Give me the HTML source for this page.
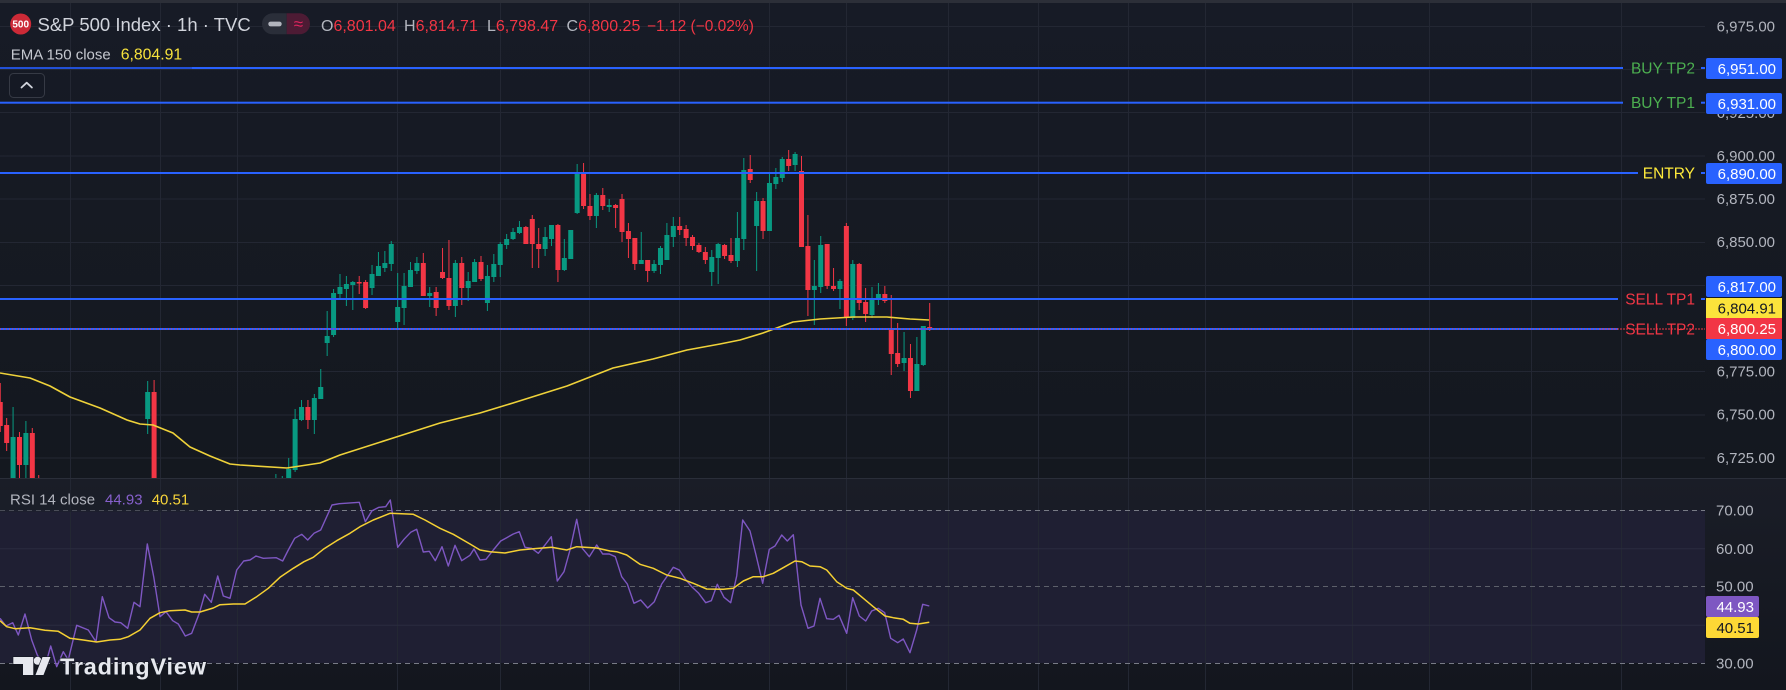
<!DOCTYPE html>
<html><head><meta charset="utf-8"><style>
html,body{margin:0;padding:0;background:#151924;}
body{width:1786px;height:690px;overflow:hidden;}
svg{display:block;font-family:"Liberation Sans",Arial,sans-serif;}
</style></head><body>
<svg width="1786" height="690" viewBox="0 0 1786 690" xmlns="http://www.w3.org/2000/svg">
<defs>
<linearGradient id="gp" x1="0" y1="0" x2="0" y2="1"><stop offset="0" stop-color="#171b26"/><stop offset="1" stop-color="#14181f"/></linearGradient>
<linearGradient id="gr" x1="0" y1="0" x2="0" y2="1"><stop offset="0" stop-color="#1a1d27"/><stop offset="1" stop-color="#13161e"/></linearGradient>
<clipPath id="cp"><rect x="0" y="0" width="1705" height="478"/></clipPath>
<clipPath id="cr"><rect x="0" y="479" width="1705" height="211"/></clipPath>
</defs>
<!-- backgrounds -->
<rect x="0" y="0" width="1786" height="478" fill="url(#gp)"/>
<rect x="0" y="479" width="1786" height="211" fill="url(#gr)"/>
<rect x="0" y="510" width="1705" height="153" fill="#1f1f33"/>
<rect x="0" y="0" width="1786" height="3" fill="#2c2f38"/>
<!-- vertical grid -->
<g stroke="#232733" stroke-width="1">
<line x1="70.5" y1="3" x2="70.5" y2="690"/><line x1="160.5" y1="3" x2="160.5" y2="690"/><line x1="237.5" y1="3" x2="237.5" y2="690"/><line x1="397.5" y1="3" x2="397.5" y2="690"/><line x1="500.5" y1="3" x2="500.5" y2="690"/><line x1="589.5" y1="3" x2="589.5" y2="690"/><line x1="679.5" y1="3" x2="679.5" y2="690"/><line x1="769.5" y1="3" x2="769.5" y2="690"/><line x1="846.5" y1="3" x2="846.5" y2="690"/><line x1="948.5" y1="3" x2="948.5" y2="690"/><line x1="1038.5" y1="3" x2="1038.5" y2="690"/><line x1="1128.5" y1="3" x2="1128.5" y2="690"/><line x1="1205.5" y1="3" x2="1205.5" y2="690"/><line x1="1352.5" y1="3" x2="1352.5" y2="690"/><line x1="1429.5" y1="3" x2="1429.5" y2="690"/><line x1="1531.5" y1="3" x2="1531.5" y2="690"/><line x1="1621.5" y1="3" x2="1621.5" y2="690"/>
</g>
<!-- horizontal grid price -->
<g stroke="#232733" stroke-width="1">
<line x1="0" y1="26.5" x2="1705" y2="26.5"/><line x1="0" y1="69.5" x2="1705" y2="69.5"/><line x1="0" y1="112.5" x2="1705" y2="112.5"/><line x1="0" y1="156" x2="1705" y2="156"/><line x1="0" y1="199" x2="1705" y2="199"/><line x1="0" y1="242.5" x2="1705" y2="242.5"/><line x1="0" y1="285.5" x2="1705" y2="285.5"/><line x1="0" y1="371.5" x2="1705" y2="371.5"/><line x1="0" y1="415" x2="1705" y2="415"/><line x1="0" y1="458" x2="1705" y2="458"/>
</g>
<!-- RSI grid -->
<g stroke="#2a2b40" stroke-width="1">
<line x1="0" y1="548.7" x2="1705" y2="548.7"/><line x1="0" y1="625.3" x2="1705" y2="625.3"/>
</g>
<line x1="0" y1="510.5" x2="1705" y2="510.5" stroke="#787b86" stroke-dasharray="5 4"/>
<line x1="0" y1="586.5" x2="1705" y2="586.5" stroke="#5d606b" stroke-dasharray="5 4"/>
<line x1="0" y1="663.5" x2="1705" y2="663.5" stroke="#787b86" stroke-dasharray="5 4"/>
<!-- pane separator -->
<rect x="0" y="478" width="1786" height="1" fill="#2a2e39"/>

<!-- candles -->
<g clip-path="url(#cp)"><g transform="translate(-0.6,0)">
<g fill="#089981">
<rect x="13.17" y="407" width="1" height="83"/><rect x="11.17" y="437" width="5" height="53"/>
<rect x="25.99" y="421" width="1" height="69"/><rect x="23.99" y="433" width="5" height="32"/>
<rect x="147.78" y="381" width="1" height="53"/><rect x="145.78" y="392" width="5" height="27"/>
<rect x="275.98" y="474" width="1" height="10"/>
<rect x="282.39" y="476" width="1" height="8"/>
<rect x="288.8" y="458" width="1" height="30"/><rect x="286.8" y="469" width="5" height="20"/>
<rect x="295.21" y="409" width="1" height="63"/><rect x="293.21" y="419" width="5" height="51"/>
<rect x="301.62" y="400" width="1" height="21"/><rect x="299.62" y="407" width="5" height="13"/>
<rect x="314.44" y="394" width="1" height="40"/><rect x="312.44" y="398" width="5" height="22"/>
<rect x="320.85" y="369" width="1" height="30"/><rect x="318.85" y="387" width="5" height="12"/>
<rect x="327.26" y="311" width="1" height="45"/><rect x="325.26" y="336" width="5" height="7"/>
<rect x="333.67" y="289" width="1" height="48"/><rect x="331.67" y="293" width="5" height="42"/>
<rect x="340.08" y="274" width="1" height="24"/><rect x="338.08" y="287" width="5" height="7"/>
<rect x="346.49" y="276" width="1" height="30"/><rect x="344.49" y="284" width="5" height="5"/>
<rect x="352.9" y="281" width="1" height="29"/><rect x="350.9" y="282" width="5" height="3"/>
<rect x="372.13" y="265" width="1" height="30"/><rect x="370.13" y="274" width="5" height="14"/>
<rect x="378.54" y="252" width="1" height="24"/><rect x="376.54" y="266" width="5" height="10"/>
<rect x="384.95" y="251" width="1" height="21"/><rect x="382.95" y="263" width="5" height="5"/>
<rect x="391.36" y="241" width="1" height="30"/><rect x="389.36" y="244" width="5" height="20"/>
<rect x="397.77" y="273" width="1" height="55"/><rect x="395.77" y="307" width="5" height="15"/>
<rect x="404.18" y="273" width="1" height="52"/><rect x="402.18" y="286" width="5" height="22"/>
<rect x="410.59" y="262" width="1" height="25"/><rect x="408.59" y="270" width="5" height="17"/>
<rect x="417" y="257" width="1" height="17"/><rect x="415" y="263" width="5" height="8"/>
<rect x="429.82" y="287" width="1" height="20"/><rect x="427.82" y="293" width="5" height="3"/>
<rect x="455.46" y="260" width="1" height="57"/><rect x="453.46" y="263" width="5" height="43"/>
<rect x="468.28" y="272" width="1" height="29"/><rect x="466.28" y="281" width="5" height="7"/>
<rect x="474.69" y="259" width="1" height="23"/><rect x="472.69" y="262" width="5" height="20"/>
<rect x="487.51" y="265" width="1" height="46"/><rect x="485.51" y="276" width="5" height="27"/>
<rect x="493.92" y="254" width="1" height="28"/><rect x="491.92" y="264" width="5" height="13"/>
<rect x="500.33" y="242" width="1" height="35"/><rect x="498.33" y="244" width="5" height="21"/>
<rect x="506.74" y="234" width="1" height="15"/><rect x="504.74" y="239" width="5" height="6"/>
<rect x="513.15" y="228" width="1" height="12"/><rect x="511.15" y="232" width="5" height="7"/>
<rect x="519.56" y="221" width="1" height="13"/><rect x="517.56" y="227" width="5" height="6"/>
<rect x="545.2" y="227" width="1" height="29"/><rect x="543.2" y="237" width="5" height="12"/>
<rect x="551.61" y="225" width="1" height="21"/><rect x="549.61" y="225" width="5" height="14"/>
<rect x="564.43" y="239" width="1" height="32"/><rect x="562.43" y="258" width="5" height="12"/>
<rect x="570.84" y="230" width="1" height="29"/><rect x="568.84" y="230" width="5" height="29"/>
<rect x="577.25" y="164" width="1" height="50"/><rect x="575.25" y="172" width="5" height="41"/>
<rect x="596.48" y="193" width="1" height="35"/><rect x="594.48" y="195" width="5" height="21"/>
<rect x="609.3" y="199" width="1" height="13"/><rect x="607.3" y="205" width="5" height="2"/>
<rect x="641.35" y="232" width="1" height="32"/><rect x="639.35" y="260" width="5" height="4"/>
<rect x="654.17" y="260" width="1" height="13"/><rect x="652.17" y="264" width="5" height="7"/>
<rect x="660.58" y="246" width="1" height="28"/><rect x="658.58" y="248" width="5" height="17"/>
<rect x="666.99" y="223" width="1" height="37"/><rect x="664.99" y="235" width="5" height="25"/>
<rect x="673.4" y="217" width="1" height="30"/><rect x="671.4" y="226" width="5" height="11"/>
<rect x="711.86" y="250" width="1" height="36"/><rect x="709.86" y="257" width="5" height="15"/>
<rect x="718.27" y="243" width="1" height="41"/><rect x="716.27" y="244" width="5" height="14"/>
<rect x="737.5" y="212" width="1" height="55"/><rect x="735.5" y="238" width="5" height="23"/>
<rect x="743.91" y="158" width="1" height="92"/><rect x="741.91" y="170" width="5" height="69"/>
<rect x="756.73" y="192" width="1" height="79"/><rect x="754.73" y="201" width="5" height="25"/>
<rect x="769.55" y="174" width="1" height="57"/><rect x="767.55" y="183" width="5" height="48"/>
<rect x="775.96" y="168" width="1" height="21"/><rect x="773.96" y="177" width="5" height="7"/>
<rect x="782.37" y="157" width="1" height="25"/><rect x="780.37" y="159" width="5" height="19"/>
<rect x="795.19" y="152" width="1" height="19"/><rect x="793.19" y="154" width="5" height="11"/>
<rect x="814.42" y="260" width="1" height="65"/><rect x="812.42" y="286" width="5" height="4"/>
<rect x="820.83" y="236" width="1" height="57"/><rect x="818.83" y="245" width="5" height="42"/>
<rect x="840.06" y="279" width="1" height="30"/><rect x="838.06" y="281" width="5" height="8"/>
<rect x="852.88" y="260" width="1" height="60"/><rect x="850.88" y="264" width="5" height="54"/>
<rect x="872.11" y="287" width="1" height="31"/><rect x="870.11" y="299" width="5" height="16"/>
<rect x="878.52" y="283" width="1" height="22"/><rect x="876.52" y="294" width="5" height="5"/>
<rect x="904.16" y="332" width="1" height="39"/><rect x="902.16" y="358" width="5" height="5"/>
<rect x="916.98" y="337" width="1" height="54"/><rect x="914.98" y="364" width="5" height="27"/>
<rect x="923.39" y="326" width="1" height="40"/><rect x="921.39" y="326" width="5" height="39"/>
</g>
<g fill="#f23645">
<rect x="0.35" y="383" width="1" height="49"/><rect x="-1.65" y="402" width="5" height="24"/>
<rect x="6.76" y="418" width="1" height="33"/><rect x="4.76" y="425" width="5" height="18"/>
<rect x="19.58" y="432" width="1" height="46"/><rect x="17.58" y="437" width="5" height="28"/>
<rect x="32.4" y="428" width="1" height="50"/><rect x="30.4" y="433" width="5" height="45"/>
<rect x="38.81" y="475" width="1" height="5"/>
<rect x="154.19" y="380" width="1" height="98"/><rect x="152.19" y="392" width="5" height="86"/>
<rect x="308.03" y="400" width="1" height="29"/><rect x="306.03" y="407" width="5" height="13"/>
<rect x="359.31" y="276" width="1" height="18"/><rect x="357.31" y="282" width="5" height="1.5"/>
<rect x="365.72" y="280" width="1" height="29"/><rect x="363.72" y="282" width="5" height="26"/>
<rect x="423.41" y="253" width="1" height="43"/><rect x="421.41" y="263" width="5" height="33"/>
<rect x="436.23" y="287" width="1" height="29"/><rect x="434.23" y="292" width="5" height="16"/>
<rect x="442.64" y="248" width="1" height="31"/><rect x="440.64" y="272" width="5" height="6"/>
<rect x="449.05" y="240" width="1" height="70"/><rect x="447.05" y="278" width="5" height="28"/>
<rect x="461.87" y="257" width="1" height="48"/><rect x="459.87" y="263" width="5" height="25"/>
<rect x="481.1" y="256" width="1" height="25"/><rect x="479.1" y="262" width="5" height="17"/>
<rect x="525.97" y="226" width="1" height="18"/><rect x="523.97" y="227" width="5" height="17"/>
<rect x="532.38" y="215" width="1" height="53"/><rect x="530.38" y="219" width="5" height="25"/>
<rect x="538.79" y="228" width="1" height="40"/><rect x="536.79" y="244" width="5" height="5"/>
<rect x="558.02" y="224" width="1" height="58"/><rect x="556.02" y="225" width="5" height="45"/>
<rect x="583.66" y="163" width="1" height="46"/><rect x="581.66" y="172" width="5" height="34"/>
<rect x="590.07" y="194" width="1" height="26"/><rect x="588.07" y="206" width="5" height="10"/>
<rect x="602.89" y="188" width="1" height="22"/><rect x="600.89" y="195" width="5" height="11"/>
<rect x="615.71" y="204" width="1" height="24"/><rect x="613.71" y="205" width="5" height="3"/>
<rect x="622.12" y="194" width="1" height="48"/><rect x="620.12" y="199" width="5" height="33"/>
<rect x="628.53" y="223" width="1" height="35"/><rect x="626.53" y="231" width="5" height="8"/>
<rect x="634.94" y="238" width="1" height="32"/><rect x="632.94" y="238" width="5" height="26"/>
<rect x="647.76" y="260" width="1" height="22"/><rect x="645.76" y="260" width="5" height="11"/>
<rect x="679.81" y="217" width="1" height="18"/><rect x="677.81" y="226" width="5" height="4"/>
<rect x="686.22" y="225" width="1" height="21"/><rect x="684.22" y="229" width="5" height="9"/>
<rect x="692.63" y="235" width="1" height="15"/><rect x="690.63" y="237" width="5" height="9"/>
<rect x="699.04" y="243" width="1" height="10"/><rect x="697.04" y="245" width="5" height="7"/>
<rect x="705.45" y="247" width="1" height="17"/><rect x="703.45" y="252" width="5" height="8"/>
<rect x="724.68" y="244" width="1" height="15"/><rect x="722.68" y="245" width="5" height="11"/>
<rect x="731.09" y="238" width="1" height="25"/><rect x="729.09" y="255" width="5" height="6"/>
<rect x="750.32" y="155" width="1" height="28"/><rect x="748.32" y="169" width="5" height="11"/>
<rect x="763.14" y="198" width="1" height="41"/><rect x="761.14" y="201" width="5" height="30"/>
<rect x="788.78" y="150" width="1" height="21"/><rect x="786.78" y="159" width="5" height="7"/>
<rect x="801.6" y="156" width="1" height="91"/><rect x="799.6" y="171" width="5" height="76"/>
<rect x="808.01" y="215" width="1" height="101"/><rect x="806.01" y="246" width="5" height="44"/>
<rect x="827.24" y="244" width="1" height="45"/><rect x="825.24" y="244" width="5" height="42"/>
<rect x="833.65" y="268" width="1" height="23"/><rect x="831.65" y="286" width="5" height="3"/>
<rect x="846.47" y="223" width="1" height="103"/><rect x="844.47" y="226" width="5" height="92"/>
<rect x="859.29" y="263" width="1" height="47"/><rect x="857.29" y="264" width="5" height="39"/>
<rect x="865.7" y="288" width="1" height="34"/><rect x="863.7" y="302" width="5" height="12"/>
<rect x="884.93" y="286" width="1" height="17"/><rect x="882.93" y="294" width="5" height="7"/>
<rect x="891.34" y="295" width="1" height="80"/><rect x="889.34" y="328" width="5" height="26"/>
<rect x="897.75" y="323" width="1" height="44"/><rect x="895.75" y="353" width="5" height="11"/>
<rect x="910.57" y="344" width="1" height="54"/><rect x="908.57" y="358" width="5" height="33"/>
<rect x="929.8" y="303" width="1" height="28"/><rect x="927.8" y="327" width="5" height="2"/>
</g>
</g>
<!-- EMA -->
<polyline fill="none" stroke="#efd23a" stroke-width="1.6" stroke-linejoin="round" points="0,373 30,378 50,386 70,397 100,408 127,420 140,424 153,425 173,433 190,447 210,456 230,464 240,465 287,468 320,463 340,455 390,439 440,423 480,413 513,403 567,386 613,368 653,359 687,350 720,344 740,340 763,333 793,322 820,319 853,317 887,317 910,319 929,320"/>
</g>

<!-- horizontal level lines -->
<rect x="0" y="67" width="192" height="2" fill="#2250d6"/>
<rect x="192" y="67" width="1431" height="2" fill="#2962ff"/>
<rect x="1701" y="67" width="4" height="2" fill="#2962ff"/>
<rect x="0" y="101.7" width="1623" height="2" fill="#2962ff"/>
<rect x="1701" y="101.7" width="4" height="2" fill="#2962ff"/>
<rect x="0" y="172" width="1638" height="2" fill="#2962ff"/>
<rect x="1701" y="172" width="4" height="2" fill="#2962ff"/>
<rect x="0" y="298" width="1618" height="2" fill="#2962ff"/>
<rect x="1701" y="298" width="4" height="2" fill="#2962ff"/>
<rect x="0" y="328" width="1618" height="2" fill="#2962ff"/>
<line x1="0" y1="329" x2="1705" y2="329" stroke="#f23645" stroke-width="1" stroke-dasharray="1 2"/>

<g font-size="15.5" text-anchor="end">
<text x="1695" y="73.5" fill="#4caf50">BUY TP2</text>
<text x="1695" y="108.2" fill="#4caf50">BUY TP1</text>
<text x="1695" y="178.5" fill="#ffeb3b">ENTRY</text>
<text x="1695" y="304.5" fill="#f23645">SELL TP1</text>
<text x="1695" y="334.5" fill="#f23645">SELL TP2</text>
</g>
<line x1="1600" y1="329" x2="1705" y2="329" stroke="#f23645" stroke-width="1" stroke-dasharray="1 2"/>

<!-- RSI lines -->
<g clip-path="url(#cr)">
<polyline fill="none" stroke="#7e57c2" stroke-width="1.4" stroke-linejoin="round" points="0,618.3 6,626 12.7,622.7 18.3,635 25,614 31.7,640 37.3,655 45,666.7 50.7,646 56.7,666.7 63.3,651.7 68.3,660 70,652.7 76.7,625.3 88.3,630 96,641.7 102.3,596.7 109,617.7 115,622 120.7,622.7 127.7,628.3 134,602.3 140,606.7 147.3,544 153.7,576.7 160,616.7 166,611.7 172.7,620.7 178.3,624 185.3,636 191.7,633.3 199.3,613.3 204.7,594.3 211.3,602.3 217.7,576 223.3,596 230,598.3 236.7,570 243.7,561 250,560 256,556 263.3,558.3 276.3,557.7 282.7,561 288.3,550 294.7,538.3 301.7,534.3 307.7,540 314,533.3 320.7,530 332,505 339.3,503.7 359.3,502.3 365.3,521.7 372,510.7 379,507.3 385.7,506.7 390.3,500 397.7,547.3 404,539.3 410.7,532.3 416.7,529.3 423.3,552 429.3,551.3 435.3,560.7 442,546.7 448.3,566 455,545.3 461.7,560.7 470,555.3 474,549 480,560 486,559.3 493.3,550 500.7,541 506.7,537.7 513.3,534 519.3,531.7 525,547.3 531.7,548.3 538.3,553.3 545,545 551.3,536.7 557.3,581 564,571.7 570,550 576.7,519.3 582.3,548.3 589.3,556.7 596.7,545 602.7,554 609.3,554 615.3,556.7 621.7,576.7 627.3,584 634,603.3 640.7,600 647.7,608 654.3,601.7 661.7,584 673.3,567.3 679.3,570 686,580 692.3,587.3 698.7,593.3 705.7,602.7 711.3,600.7 717.3,584.3 724,597.3 730.7,602.7 736.7,576 742.7,520 750,531 756,555 762.7,583.3 769.3,549.3 775,546 781.7,535 787.3,541 793.3,534.7 801,605 808,628.3 814,626 820,598.3 826.7,618.7 833.3,619.3 839,615.3 846.7,633.3 852.7,597.7 859.3,616 865.7,621 871.7,611 878.3,608.3 884.7,612.7 890.7,638.3 897.7,642.7 903.3,639 910,652.7 916.7,630 922.7,604.3 929.3,606"/>
<polyline fill="none" stroke="#f5d033" stroke-width="1.5" stroke-linejoin="round" points="0,620.7 6.7,626.7 15,628.7 30,627.7 45,630.3 58.3,631.3 70,638.3 83.3,640 96.7,642 110,640 120,639.3 128.3,636.7 140,630 150,618.3 160,612.7 170,610.7 185,610 191.7,612 200,612 213.3,608 220,604.7 233.3,604 245,604 256.7,596.7 268.3,588.3 280,577.3 293.3,568.3 304,561.7 313.3,557.3 323.3,549.3 336.7,540.7 350,533.3 360,526.7 373.3,520 390,513.3 413.3,514.3 425,520 440,528.3 453.3,534.3 470,544 480,550 490,551.7 505,553 520,550 533.3,548.7 551.7,547.3 566.7,550 576.7,546.7 596.7,548 610,551 616.7,551.7 626.7,555 640,564.3 653.3,568.3 666.7,575 680,578.3 693.3,583.3 706.7,589 723.3,589.3 733.3,588.3 743.3,581 753.3,576.7 763.3,576.7 773.3,573.3 785,566.7 795,561 801.7,561.7 810,566 820,566.7 826.7,570 836.7,581.7 846.7,588.3 853.3,590 863.3,598.3 873.3,606.7 885,616 893.3,617.7 903.3,619.3 910,623.3 918.3,624 929.3,622.3"/>
</g>

<!-- price axis labels -->
<g font-size="15" fill="#b2b5be" text-anchor="end">
<text x="1775" y="31.5">6,975.00</text>
<text x="1775" y="118">6,925.00</text>
<text x="1775" y="160.8">6,900.00</text>
<text x="1775" y="204">6,875.00</text>
<text x="1775" y="247.2">6,850.00</text>
<text x="1775" y="376.5">6,775.00</text>
<text x="1775" y="419.7">6,750.00</text>
<text x="1775" y="462.8">6,725.00</text>
</g>
<g>
<rect x="1706" y="58" width="76" height="21" rx="2" fill="#2962ff"/>
<rect x="1706" y="93" width="76" height="21" rx="2" fill="#2962ff"/>
<rect x="1706" y="163" width="76" height="21" rx="2" fill="#2962ff"/>
<rect x="1706" y="276" width="76" height="21" rx="2" fill="#2962ff"/>
<rect x="1706" y="298" width="76" height="20" fill="#fbe33b"/>
<rect x="1706" y="318" width="76" height="21" fill="#f23645"/>
<rect x="1706" y="339" width="76" height="21" rx="2" fill="#2962ff"/>
</g>
<g font-size="15" text-anchor="end">
<text x="1776" y="74" fill="#ffffff">6,951.00</text>
<text x="1776" y="109" fill="#ffffff">6,931.00</text>
<text x="1776" y="179" fill="#ffffff">6,890.00</text>
<text x="1776" y="292" fill="#ffffff">6,817.00</text>
<text x="1776" y="313.5" fill="#131722">6,804.91</text>
<text x="1776" y="334" fill="#ffffff">6,800.25</text>
<text x="1776" y="355" fill="#ffffff">6,800.00</text>
</g>
<!-- RSI axis -->
<g font-size="15" fill="#b2b5be">
<text x="1716" y="515.5">70.00</text>
<text x="1716" y="554">60.00</text>
<text x="1716" y="591.5">50.00</text>
<text x="1716" y="668.5">30.00</text>
</g>
<rect x="1706" y="596" width="53" height="21" rx="2" fill="#7e57c2"/>
<rect x="1706" y="617" width="53" height="21" rx="2" fill="#fdd835"/>
<g font-size="15" text-anchor="end">
<text x="1754" y="612" fill="#ffffff">44.93</text>
<text x="1754" y="633" fill="#131722">40.51</text>
</g>

<!-- header legend -->
<circle cx="20.7" cy="24" r="10.5" fill="#cc2a37"/>
<text x="20.7" y="27.6" font-size="10" font-weight="bold" fill="#ffffff" text-anchor="middle">500</text>
<text x="37.5" y="31" font-size="18.5" fill="#d1d4dc">S&amp;P 500 Index · 1h · TVC</text>
<path d="M272.5,13.3 H286.7 V34.3 H272.5 A10.5,10.5 0 0 1 272.5,13.3 Z" fill="#2a2e39"/>
<path d="M286.7,13.3 H299.5 A10.5,10.5 0 0 1 299.5,34.3 H286.7 Z" fill="#4d1b34"/>
<rect x="268.3" y="21.6" width="13.4" height="4.8" rx="2.4" fill="#b2b5be"/>
<text x="298.4" y="29.5" font-size="17" fill="#e0245e" text-anchor="middle">≈</text>
<g font-size="16">
<text x="321" y="31"><tspan fill="#b2b5be">O</tspan><tspan fill="#f23645">6,801.04</tspan></text>
<text x="404" y="31"><tspan fill="#b2b5be">H</tspan><tspan fill="#f23645">6,814.71</tspan></text>
<text x="487" y="31"><tspan fill="#b2b5be">L</tspan><tspan fill="#f23645">6,798.47</tspan></text>
<text x="566.5" y="31"><tspan fill="#b2b5be">C</tspan><tspan fill="#f23645">6,800.25</tspan></text>
</g>
<text x="647" y="31" font-size="15.5" fill="#f23645">−1.12 (−0.02%)</text>
<text x="10.7" y="59.3" font-size="15" fill="#c5c8cf">EMA 150 close</text>
<text x="120.7" y="59.3" font-size="15.8" fill="#f7e23c">6,804.91</text>
<!-- collapse button -->
<rect x="9.5" y="73.5" width="35" height="24" rx="4" fill="#151924" stroke="#363a45" stroke-width="1"/>
<polyline points="21.5,87.5 26.7,82.7 31.9,87.5" fill="none" stroke="#d1d4dc" stroke-width="1.8" stroke-linecap="round" stroke-linejoin="round"/>

<!-- RSI legend -->
<rect x="0" y="490" width="200" height="22" fill="#1c1f2a" opacity="0.5"/>
<text x="10" y="504.7" font-size="15" fill="#b2b5be">RSI 14 close</text>
<text x="105" y="504.7" font-size="15" fill="#8660cc">44.93</text>
<text x="151.7" y="504.7" font-size="15" fill="#f7d53a">40.51</text>

<!-- TradingView watermark -->
<g fill="#e6e8ee" stroke="#131722" stroke-width="1.2" paint-order="stroke">
<path d="M13.3,657 H33.3 V675 H23 V664 H13.3 Z"/>
<circle cx="37.6" cy="660.8" r="4"/>
<path d="M42.5,657 H50.5 L43.5,675 H35.5 Z"/>
<text x="60" y="674.5" font-size="23.5" font-weight="bold" letter-spacing="0.8" stroke-width="1.5">TradingView</text>
</g>
</svg>
</body></html>
